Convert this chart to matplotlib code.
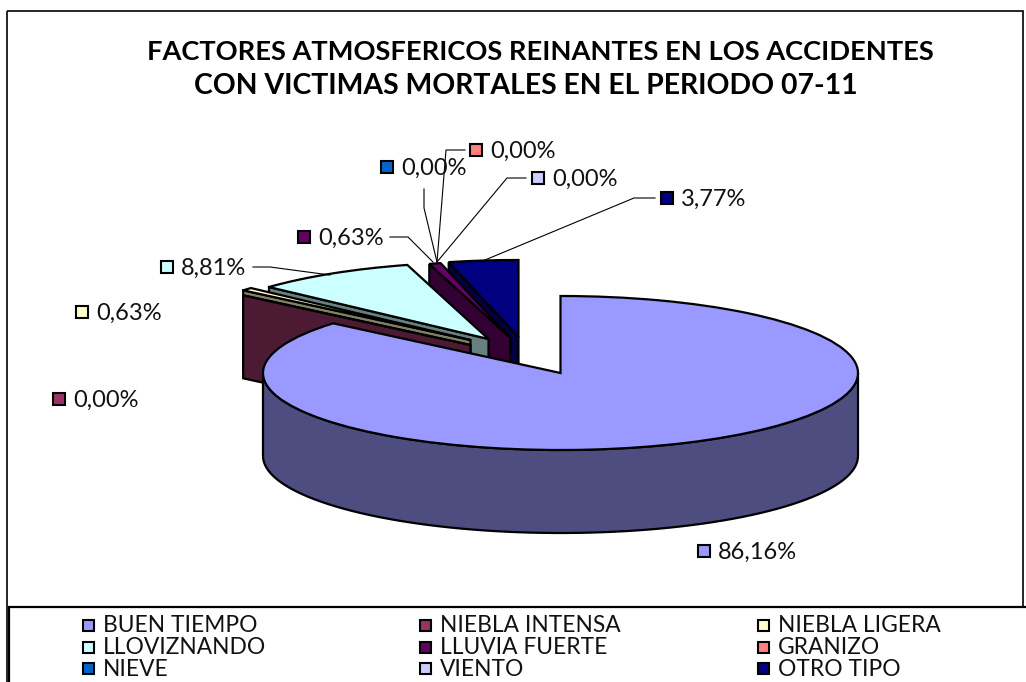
import numpy as np
import matplotlib
matplotlib.use("Agg")
import matplotlib.pyplot as plt
from matplotlib.patches import Rectangle

# data
categories = ["BUEN TIEMPO", "NIEBLA INTENSA", "NIEBLA LIGERA",
              "LLOVIZNANDO", "LLUVIA FUERTE", "GRANIZO",
              "NIEVE", "VIENTO", "OTRO TIPO"]
percents = [86.16, 0.00, 0.63, 8.81, 0.63, 0.00, 0.00, 0.00, 3.77]
colors = ["#9999ff", "#993366", "#ffffcc", "#ccffff", "#660066",
          "#ff8080", "#0066cc", "#ccccff", "#000080"]
title_lines = ["FACTORES ATMOSFERICOS REINANTES EN LOS ACCIDENTES",
               "CON VICTIMAS MORTALES EN EL PERIODO 07-11"]

# layout, pixels of the 1026x682 picture
W, H = 1026, 682
CX, CY, RX, RY, DEPTH = 560.5, 373, 297.5, 77, 83
pull_x = [0, -90, -90, -72, -50, -52, -52, -52, -42]
pull_y = [0, 28, 33, 34, 35, 35, 35, 35, 36]
label_keys = [(704, 551), (59, 399), (82, 312), (167, 267), (304, 237),
              (476, 150), (387, 167), (538, 178), (667, 198)]
leaders = [None, None, None,
           [(253, 267), (270, 267), (330, 275)],
           [(390, 237), (408, 237), (433, 262)],
           [(465, 150), (446, 150), (437, 262)],
           [(424, 189), (424, 208), (437, 262)],
           [(526, 178), (507, 178), (437, 262)],
           [(655, 198), (634, 198), (485, 260)]]
legend_x = [88, 425, 763]
legend_y = [627, 649, 670]

plt.rcParams["font.family"] = ["Lato", "DejaVu Sans"]
fig = plt.figure(figsize=(W / 100, H / 100), dpi=100, facecolor="white")

# pie axes: one unit is RX px across and RY px up, so the round pie comes out flat
ax = fig.add_axes([0, 0, 1, 1])
wedges, _ = ax.pie(percents, colors=colors, startangle=90, counterclock=False,
                   wedgeprops={"edgecolor": "black", "linewidth": 1.6})
ax.set_aspect("auto")
ax.set_xlim(-CX / RX, (W - CX) / RX)
ax.set_ylim((CY - H) / RY, CY / RY)
ax.axis("off")

depth = DEPTH / RY
starts = (np.cumsum(percents) - np.array(percents)) * 3.6


def dark(color):
    return tuple(c * 0.5 for c in matplotlib.colors.to_rgb(color))


# the big slice stays in the middle, the others are pulled out up-left
for i in range(len(percents) - 1, -1, -1):
    z = 10 + (len(percents) - i) * 2
    wedges[i].set_zorder(z + 1)
    if i == 0:
        t = np.radians(np.linspace(90, 270, 80))
        xs, ys = np.sin(t), np.cos(t)
        ax.fill(np.r_[xs, xs[::-1]], np.r_[ys, ys[::-1] - depth],
                facecolor=dark(colors[i]), edgecolor="black", lw=1.6, zorder=z)
        continue
    dx, dy = pull_x[i] / RX, pull_y[i] / RY
    wedges[i].set_center((dx, dy))
    a = np.radians(starts[i])
    ox, oy = dx + np.sin(a), dy + np.cos(a)
    ax.fill([ox, dx, dx, ox], [oy, dy, dy - depth, oy - depth],
            facecolor=dark(colors[i]), edgecolor="black", lw=1.6, zorder=z)

# overlay axes in picture pixels for frames, text and leader lines
ov = fig.add_axes([0, 0, 1, 1], facecolor="none")
ov.set_xlim(0, W)
ov.set_ylim(H, 0)
ov.axis("off")

ov.add_patch(Rectangle((7, 11), 1016, 700, fill=False, ec="black", lw=1.2))
ov.add_patch(Rectangle((9, 607), 1030, 100, fc="white", ec="black", lw=1.6, zorder=3))

ov.text(540, 52, title_lines[0], ha="center", va="center", fontsize=19.6, fontweight="bold")
ov.text(526, 86, title_lines[1], ha="center", va="center", fontsize=20.4, fontweight="bold")


def key(x, y, color, size=10):
    ov.add_patch(Rectangle((x - size / 2, y - size / 2), size, size,
                           fc=color, ec="black", lw=1.5, zorder=5))


for i, pct in enumerate(percents):
    x, y = label_keys[i]
    key(x, y, colors[i], 12)
    ov.text(x + 14, y + 1, f"{pct:.2f}%".replace(".", ","), ha="left", va="center",
            fontsize=17, color="#111111", zorder=5)
    if leaders[i]:
        px, py = zip(*leaders[i])
        ov.plot(px, py, color="black", lw=0.8, zorder=4)

for i, name in enumerate(categories):
    x = legend_x[i % 3]
    y = legend_y[i // 3]
    key(x, y - 2, colors[i], 11)
    ov.text(x + 15, y - 1, name, ha="left", va="center", fontsize=16.4,
            color="#111111", zorder=5)

fig.savefig("out.png", dpi=100)
